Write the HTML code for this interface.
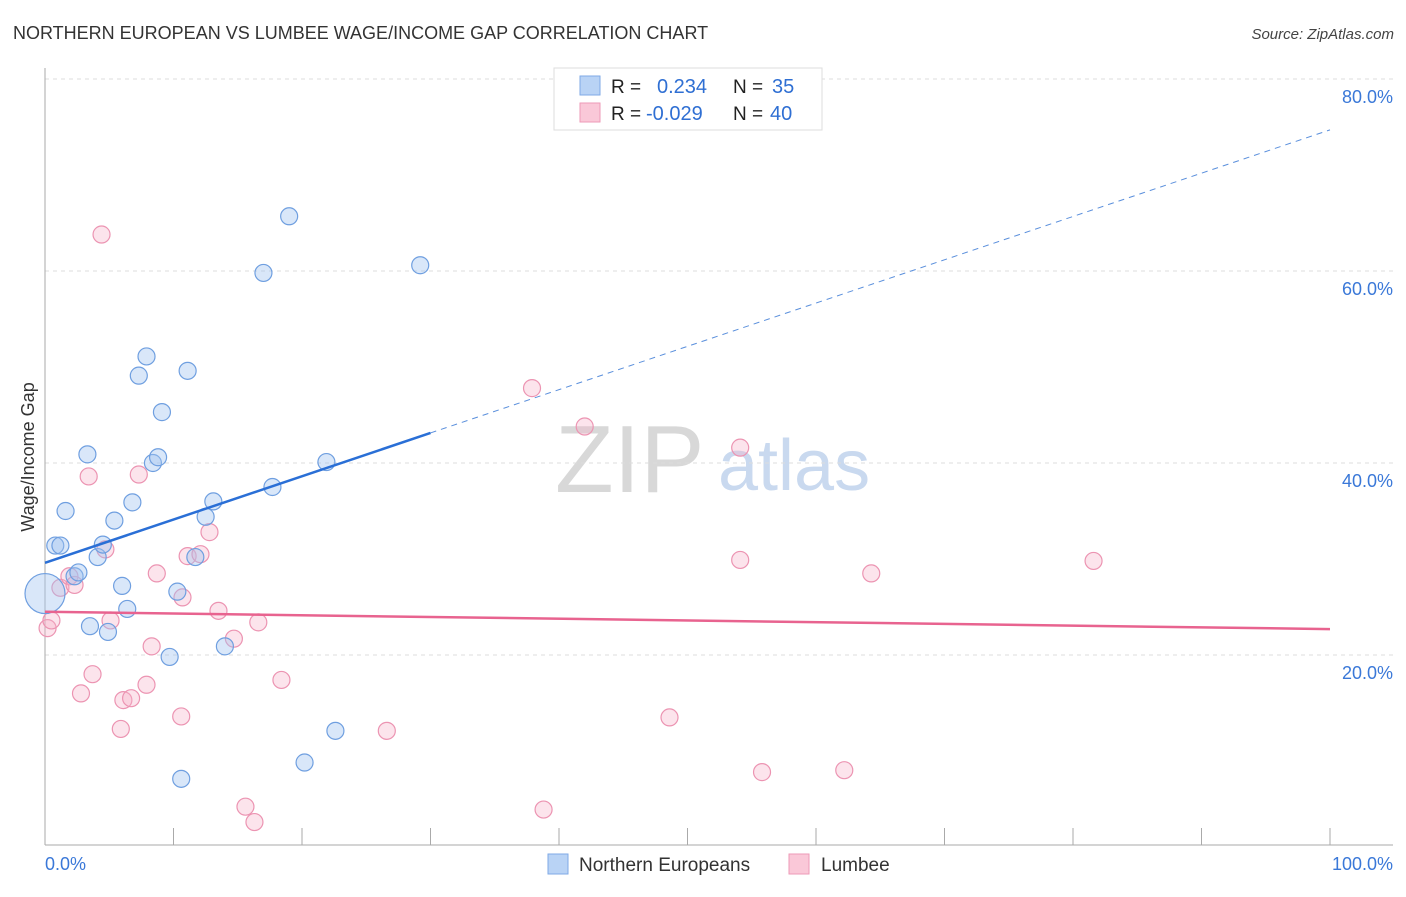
<!DOCTYPE html>
<html><head><meta charset="utf-8"><style>
body{margin:0;background:#fff;font-family:"Liberation Sans",sans-serif;}
svg text{font-family:"Liberation Sans",sans-serif;}
</style></head><body>
<svg id="chart" width="1406" height="892" xmlns="http://www.w3.org/2000/svg">
<text x="13" y="39" font-size="18" fill="#333">NORTHERN EUROPEAN VS LUMBEE WAGE/INCOME GAP CORRELATION CHART</text>
<text x="1394" y="39" font-size="15" fill="#444" text-anchor="end" font-style="italic">Source: ZipAtlas.com</text>
<g>
<text x="555" y="492" font-size="96" fill="#d8d8d8" font-family="Liberation Serif,serif">ZIP</text>
<text x="718" y="490" font-size="72" fill="#c9d9ef">atlas</text>
</g>
<g id="grid"></g>
<g id="axes"></g>
<g id="marks"></g>
<text transform="translate(34,457) rotate(-90)" font-size="18" fill="#333" text-anchor="middle">Wage/Income Gap</text>
<g>
<rect x="554" y="68" width="268" height="62" fill="#fff" stroke="#ddd"/>
<rect x="580" y="76" width="20" height="19" fill="#b9d3f5" stroke="#7fa9e6"/>
<rect x="580" y="103" width="20" height="19" fill="#fac8d8" stroke="#ee9ab7"/>
<text x="611" y="93" font-size="19" fill="#222">R =</text>
<text x="657" y="93" font-size="20" fill="#2f6fd3">0.234</text>
<text x="733" y="93" font-size="19" fill="#222">N =</text>
<text x="772" y="93" font-size="20" fill="#2f6fd3">35</text>
<text x="611" y="120" font-size="19" fill="#222">R =</text>
<text x="646" y="120" font-size="20" fill="#2f6fd3">-0.029</text>
<text x="733" y="120" font-size="19" fill="#222">N =</text>
<text x="770" y="120" font-size="20" fill="#2f6fd3">40</text>
</g>
<g>
<rect x="548" y="854" width="20" height="20" fill="#b9d3f5" stroke="#7fa9e6"/>
<text x="579" y="871" font-size="19" fill="#333">Northern Europeans</text>
<rect x="789" y="854" width="20" height="20" fill="#fac8d8" stroke="#ee9ab7"/>
<text x="821" y="871" font-size="19" fill="#333">Lumbee</text>
</g>
</svg>
<script>
const yTicks=[20,40,60,80];
const yTickLabels=["20.0%","40.0%","60.0%","80.0%"];
const xTickCount=10;
const blueX=[0,0.8,1.2,1.6,2.3,2.6,3.3,3.5,4.1,4.5,4.9,5.4,6.0,6.4,6.8,7.3,7.9,8.4,8.8,9.1,9.7,10.3,10.6,11.1,11.7,12.5,13.1,14.0,17.0,17.7,19.0,20.2,21.9,22.6,29.2];
const blueY=[26.4,31.4,31.4,35.0,28.2,28.6,40.9,23.0,30.2,31.5,22.4,34.0,27.2,24.8,35.9,49.1,51.1,40.0,40.6,45.3,19.8,26.6,7.1,49.6,30.2,34.4,36.0,20.9,59.8,37.5,65.7,8.8,40.1,12.1,60.6];
const pinkX=[0.2,0.5,1.2,1.9,2.3,2.8,3.4,3.7,4.4,4.7,5.1,5.9,6.1,6.7,7.3,7.9,8.3,8.7,10.6,10.7,11.1,12.1,12.8,13.5,14.7,15.6,16.3,16.6,18.4,26.6,37.9,38.8,42.0,48.6,54.1,54.1,55.8,62.2,64.3,81.6];
const pinkY=[22.8,23.6,27.0,28.2,27.3,16.0,38.6,18.0,63.8,31.0,23.6,12.3,15.3,15.5,38.8,16.9,20.9,28.5,13.6,26.0,30.3,30.5,32.8,24.6,21.7,4.2,2.6,23.4,17.4,12.1,47.8,3.9,43.8,13.5,41.6,29.9,7.8,8.0,28.5,29.8];
const blueTrend=[29.6,74.7];
const pinkTrend=[24.5,22.7];
const blueSolidEnd=30;
const NS="http://www.w3.org/2000/svg";
const sx=v=>45+v*12.85;
const sy=v=>847-v*9.6;
function mk(tag,attrs,parent){const e=document.createElementNS(NS,tag);for(const k in attrs)e.setAttribute(k,attrs[k]);document.getElementById(parent).appendChild(e);return e;}
yTicks.forEach((t,i)=>{
 const g=mk('line',{x1:45,x2:1393,y1:sy(t),y2:sy(t),stroke:'#ddd','stroke-dasharray':'4,4'},'grid');
 
 
 const l=mk('text',{x:1393,y:sy(t)+24,'font-size':18,fill:'#3a78d8','text-anchor':'end'},'grid');
 
 
 l.textContent=yTickLabels[i];
});
let a=mk('line',{x1:45,x2:45,y1:68,y2:845,stroke:'#aaa'},'axes');


a=mk('line',{x1:45,x2:1393,y1:845,y2:845,stroke:'#aaa'},'axes');


for(let i=0;i<=xTickCount;i++){
 const t=mk('line',{x1:sx(i*10),x2:sx(i*10),y1:828,y2:845,stroke:'#aaa'},'axes');
 
 
}
let xl=mk('text',{x:45,y:870,'font-size':18,fill:'#3a78d8'},'axes');


xl.textContent='0.0%';
xl=mk('text',{x:1393,y:870,'font-size':18,fill:'#3a78d8','text-anchor':'end'},'axes');


xl.textContent='100.0%';
pinkX.forEach((x,i)=>{
 const c=mk('circle',{cx:sx(x),cy:sy(pinkY[i]),r:8.5,fill:'rgba(246,178,200,0.35)',stroke:'#ec94b2','stroke-width':1.2},'marks');
 
 
});
blueX.forEach((x,i)=>{
 const c=mk('circle',{cx:sx(x),cy:sy(blueY[i]),r:i===0?20:8.5,fill:'rgba(160,196,240,0.4)',stroke:'#6f9fe0','stroke-width':1.2},'marks');
 
 
});
const by=x=>blueTrend[0]+(blueTrend[1]-blueTrend[0])*x/100;
let ln=mk('line',{x1:sx(0),y1:sy(by(0)),x2:sx(blueSolidEnd),y2:sy(by(blueSolidEnd)),stroke:'#2a6fd6','stroke-width':2.5},'marks');


ln=mk('line',{x1:sx(blueSolidEnd),y1:sy(by(blueSolidEnd)),x2:sx(100),y2:sy(by(100)),stroke:'#5a8fdc','stroke-width':1,'stroke-dasharray':'6,5'},'marks');


ln=mk('line',{x1:sx(0),y1:sy(pinkTrend[0]),x2:sx(100),y2:sy(pinkTrend[1]),stroke:'#e8638f','stroke-width':2.5},'marks');


</script>
</body></html>
